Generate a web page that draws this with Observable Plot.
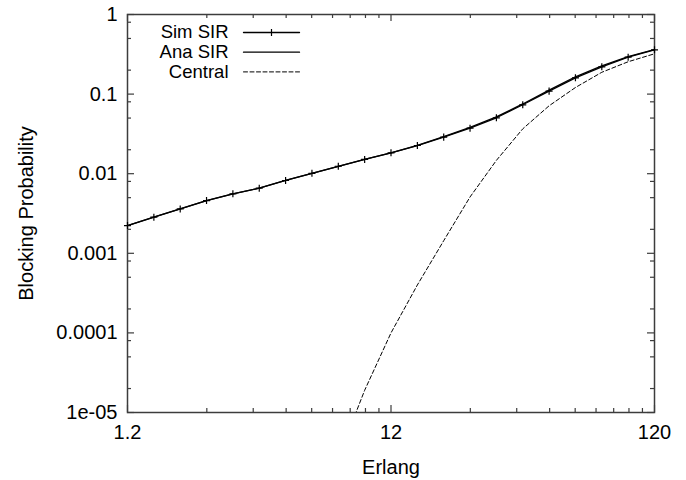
<!DOCTYPE html>
<html>
<head>
<meta charset="utf-8">
<script src="https://cdn.jsdelivr.net/npm/d3@7"></script>
<script src="https://cdn.jsdelivr.net/npm/@observablehq/plot@0.6"></script>
<style>
  html, body { margin: 0; padding: 0; background: #ffffff; }
  #chart { width: 686px; height: 480px; }
</style>
</head>
<body>
<div id="chart"></div>
<script>
// ---- data ----
const erlang = [1.2, 1.511, 1.902, 2.394, 3.014, 3.795, 4.777, 6.014, 7.572, 9.532,
                12, 15.11, 19.02, 23.94, 30.14, 37.95, 47.77, 60.14, 75.72, 95.32, 120];
const simSIR = [0.00223, 0.00284, 0.00361, 0.0046, 0.00559, 0.00657, 0.00822, 0.0101, 0.0124, 0.0151,
                0.0183, 0.0226, 0.0288, 0.0373, 0.0504, 0.0734, 0.109, 0.160, 0.220, 0.291, 0.360];
const anaSIR = [0.00223, 0.00284, 0.00361, 0.0046, 0.00559, 0.00657, 0.00822, 0.0101, 0.0124, 0.0151,
                0.0183, 0.0227, 0.0292, 0.0381, 0.0517, 0.0752, 0.112, 0.165, 0.226, 0.296, 0.363];
const centralErlang = [7.572, 9.532, 12, 15.11, 19.02, 23.94, 30.14, 37.95, 47.77, 60.14, 75.72, 95.32, 120];
const central = [2.7e-6, 1.9e-5, 1.0e-4, 4.0e-4, 1.44e-3, 5.1e-3, 0.0147, 0.0366, 0.0713, 0.121, 0.188, 0.255, 0.321];

const xTicks = [1.2, 12, 120];
const xTickLabels = ["1.2", "12", "120"];
const xMinorMult = [2, 3, 4, 5, 6, 7, 8, 9];
const yTicks = [1, 0.1, 0.01, 0.001, 0.0001, 0.00001];
const yTickLabels = ["1", "0.1", "0.01", "0.001", "0.0001", "1e-05"];
const yMinorMult = [2, 5, 8];
const seriesNames = ["Sim SIR", "Ana SIR", "Central"];

// ---- build ----
const simData = erlang.map((e, i) => ({e, p: simSIR[i]}));
const anaData = erlang.map((e, i) => ({e, p: anaSIR[i]}));
const cenData = centralErlang.map((e, i) => ({e, p: central[i]}));

const xMinor = [];
for (const base of [1.2, 12]) for (const m of xMinorMult) xMinor.push(base * m);
const yMinor = [];
for (const base of [0.00001, 0.0001, 0.001, 0.01, 0.1]) for (const m of yMinorMult) yMinor.push(base * m);

const xLabelMap = new Map(xTicks.map((t, i) => [t, xTickLabels[i]]));
const yLabelMap = new Map(yTicks.map((t, i) => [t, yTickLabels[i]]));

const W = 686, H = 480, mL = 127, mR = 32, mT = 14, mB = 68;
const iW = W - mL - mR, iH = H - mT - mB;
const major = 7, minor = 4;
const tickColor = "#3c3c3c";
const font = "'Liberation Sans', Arial, Helvetica, sans-serif";
const fs = 20;
const legendFs = 18.5;

const lineShape = {draw(context, l) { context.moveTo(0, 0); context.lineTo(0, -l); }};

const legendMarks = [];
seriesNames.forEach((name, i) => {
  const dy = 18 + 19.7 * i;
  legendMarks.push(Plot.text([name], {frameAnchor: "top-left", textAnchor: "end", lineAnchor: "middle", dx: 101, dy, fontSize: legendFs, fill: "black"}));
  legendMarks.push(Plot.vector([0], {frameAnchor: "top-left", dx: 116, dy, length: 56, rotate: 90, anchor: "start",
    shape: lineShape, stroke: "black", strokeWidth: i === 2 ? 1 : 1.3, strokeDasharray: i === 2 ? "4,2.5" : null}));
});
legendMarks.push(Plot.dot([0], {frameAnchor: "top-left", dx: 144, dy: 18, symbol: "plus", r: 2.4, stroke: "black", strokeWidth: 1.2}));

const chart = Plot.plot({
  width: W, height: H,
  marginLeft: mL, marginRight: mR, marginTop: mT, marginBottom: mB,
  style: {fontFamily: font, fontSize: fs + "px", background: "#ffffff", color: "black"},
  x: {type: "log", domain: [1.2, 120]},
  y: {type: "log", domain: [1e-5, 1]},
  marks: [
    // inward ticks
    Plot.ruleY(yTicks, {insetRight: iW - major, stroke: tickColor, strokeWidth: 1.2}),
    Plot.ruleY(yTicks, {insetLeft: iW - major, stroke: tickColor, strokeWidth: 1.2}),
    Plot.ruleY(yMinor, {insetRight: iW - minor, stroke: tickColor, strokeWidth: 1.2}),
    Plot.ruleY(yMinor, {insetLeft: iW - minor, stroke: tickColor, strokeWidth: 1.2}),
    Plot.ruleX(xTicks, {insetTop: iH - major, stroke: tickColor, strokeWidth: 1.2}),
    Plot.ruleX(xTicks, {insetBottom: iH - major, stroke: tickColor, strokeWidth: 1.2}),
    Plot.ruleX(xMinor, {insetTop: iH - minor, stroke: tickColor, strokeWidth: 1.2}),
    Plot.ruleX(xMinor, {insetBottom: iH - minor, stroke: tickColor, strokeWidth: 1.2}),
    Plot.frame({stroke: tickColor, strokeWidth: 1.5}),
    // axes labels
    Plot.axisX(xTicks, {tickSize: 0, tickPadding: 12, tickFormat: d => xLabelMap.get(d), fontSize: fs, label: null}),
    Plot.axisY(yTicks, {tickSize: 0, tickPadding: 10, tickFormat: d => yLabelMap.get(d), fontSize: fs, label: null}),
    Plot.text(["Erlang"], {frameAnchor: "bottom", textAnchor: "middle", lineAnchor: "middle", dy: 55, fontSize: fs, fill: "black"}),
    Plot.text(["Blocking Probability"], {frameAnchor: "left", textAnchor: "middle", lineAnchor: "middle", dx: -101, rotate: -90, fontSize: fs, fill: "black"}),
    // series
    Plot.line(cenData, {x: "e", y: "p", stroke: "black", strokeWidth: 1, strokeDasharray: "4,2.5", clip: true}),
    Plot.line(anaData, {x: "e", y: "p", stroke: "black", strokeWidth: 1.3, clip: true}),
    Plot.line(simData, {x: "e", y: "p", stroke: "black", strokeWidth: 1.3}),
    Plot.dot(simData, {x: "e", y: "p", symbol: "plus", r: 2.4, stroke: "black", strokeWidth: 1.2}),
    ...legendMarks
  ]
});
document.getElementById("chart").appendChild(chart);
</script>
</body>
</html>
